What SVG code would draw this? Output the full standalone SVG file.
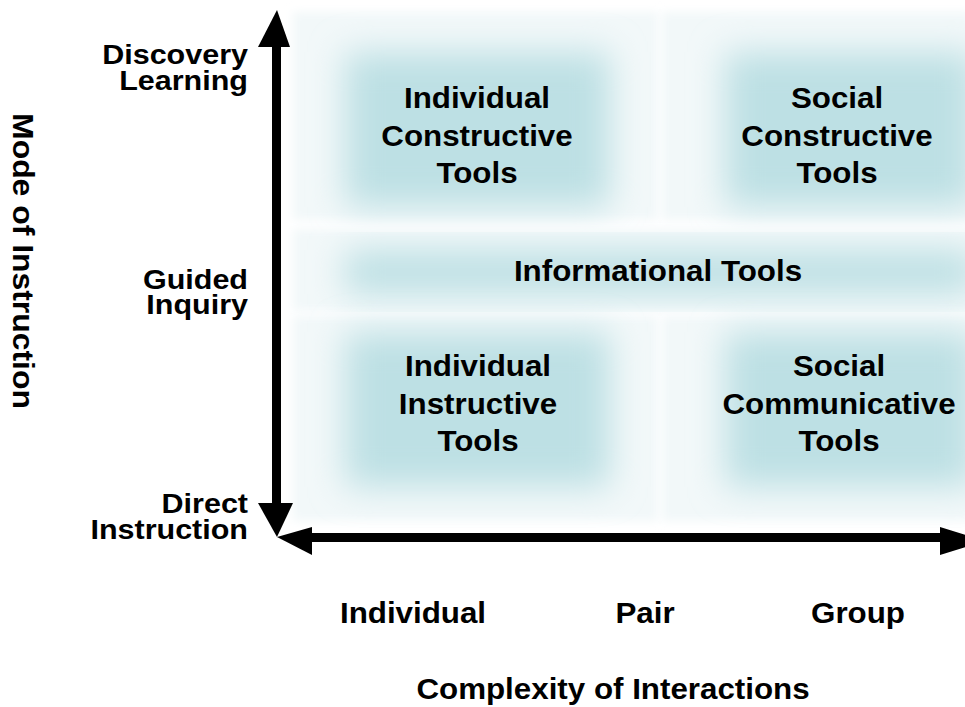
<svg xmlns="http://www.w3.org/2000/svg" width="965" height="707" viewBox="0 0 965 707">
  <defs>
    <filter id="glow" x="-40%" y="-40%" width="180%" height="180%">
      <feGaussianBlur stdDeviation="17"/>
    </filter>
    <filter id="haze" x="-10%" y="-10%" width="120%" height="120%">
      <feGaussianBlur stdDeviation="5"/>
    </filter>
    <style>
      text { font-family: "Liberation Sans", Arial, Helvetica, sans-serif; font-weight: bold; font-size: 29px; fill: #000; }
      .mid { text-anchor: middle; }
      .end { text-anchor: end; }
      .side { font-size: 28px; }
      .pale { fill: #f2f8f9; filter: url(#haze); }
      .teal { fill: #bde0e4; filter: url(#glow); }
      .axis { fill: #000; }
    </style>
  </defs>
  <rect width="965" height="707" fill="#fff"/>

  <!-- quadrant cells: pale backing, soft teal glow, centred label -->
  <g id="individual-constructive">
    <rect class="pale" x="293" y="12" width="365" height="208"/>
    <rect class="teal" x="345" y="52" width="265" height="155"/>
    <text class="mid" transform="translate(477 108) scale(1.08 1)"><tspan x="0" y="0">Individual</tspan><tspan x="0" dy="38">Constructive</tspan><tspan x="0" dy="37">Tools</tspan></text>
  </g>
  <g id="social-constructive">
    <rect class="pale" x="662" y="12" width="310" height="208"/>
    <rect class="teal" x="725" y="52" width="250" height="155"/>
    <text class="mid" transform="translate(837 108) scale(1.08 1)"><tspan x="0" y="0">Social</tspan><tspan x="0" dy="38">Constructive</tspan><tspan x="0" dy="37">Tools</tspan></text>
  </g>
  <g id="informational">
    <rect class="pale" x="293" y="229" width="680" height="82"/>
    <rect class="teal" x="345" y="250" width="630" height="44"/>
    <text class="mid" transform="translate(658 281) scale(1.08 1)">Informational Tools</text>
  </g>
  <g id="individual-instructive">
    <rect class="pale" x="293" y="316" width="365" height="205"/>
    <rect class="teal" x="345" y="332" width="265" height="155"/>
    <text class="mid" transform="translate(478 376) scale(1.08 1)"><tspan x="0" y="0">Individual</tspan><tspan x="0" dy="38">Instructive</tspan><tspan x="0" dy="37">Tools</tspan></text>
  </g>
  <g id="social-communicative">
    <rect class="pale" x="662" y="316" width="310" height="205"/>
    <rect class="teal" x="725" y="332" width="250" height="155"/>
    <text class="mid" transform="translate(839 376) scale(1.08 1)"><tspan x="0" y="0">Social</tspan><tspan x="0" dy="38">Communicative</tspan><tspan x="0" dy="37">Tools</tspan></text>
  </g>

  <!-- axes -->
  <g id="connectors">
    <rect class="axis" x="272" y="45" width="9" height="460"/>
    <polygon class="axis" points="258,47 277,10 290,47"/>
    <polygon class="axis" points="258,503 293,503 277,537"/>
    <rect class="axis" x="310" y="533" width="632" height="9"/>
    <polygon class="axis" points="277,537 312,527 312,555"/>
    <polygon class="axis" points="940,527 940,555 985,541"/>
  </g>

  <!-- vertical axis labels -->
  <g id="y-labels">
    <text class="end side" transform="translate(248 64) scale(1.09 1)"><tspan x="0" y="0">Discovery</tspan><tspan x="0" dy="26">Learning</tspan></text>
    <text class="end side" transform="translate(248 289) scale(1.09 1)"><tspan x="0" y="0">Guided</tspan><tspan x="0" dy="25">Inquiry</tspan></text>
    <text class="end side" transform="translate(248 513) scale(1.09 1)"><tspan x="0" y="0">Direct</tspan><tspan x="0" dy="26">Instruction</tspan></text>
    <text class="mid" transform="translate(13 261) rotate(90) scale(1.1 1)">Mode of Instruction</text>
  </g>

  <!-- horizontal axis labels -->
  <g id="x-labels">
    <text class="mid" transform="translate(413 623) scale(1.08 1)">Individual</text>
    <text class="mid" transform="translate(645 623) scale(1.08 1)">Pair</text>
    <text class="mid" transform="translate(858 623) scale(1.08 1)">Group</text>
    <text class="mid" transform="translate(613 699) scale(1.08 1)">Complexity of Interactions</text>
  </g>
</svg>
